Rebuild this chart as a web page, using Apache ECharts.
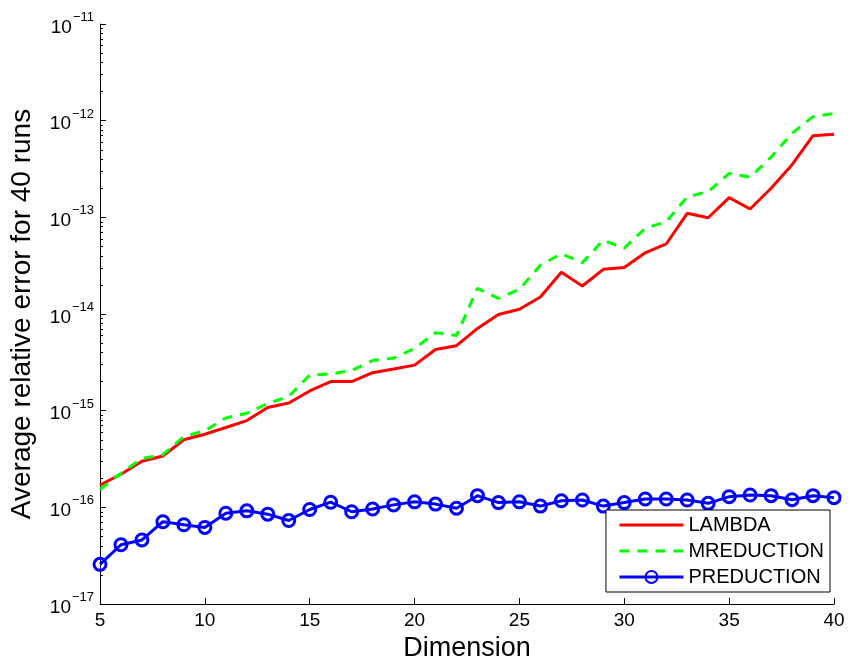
<!DOCTYPE html>
<html><head><meta charset="utf-8">
<script src="https://cdn.jsdelivr.net/npm/echarts@6/dist/echarts.min.js"></script>
<style>html,body{margin:0;padding:0;background:#fff}#c{width:849px;height:669px}</style>
</head><body><div id="c"></div>
<script>
const dims = [5,6,7,8,9,10,11,12,13,14,15,16,17,18,19,20,21,22,23,24,25,26,27,28,29,30,31,32,33,34,35,36,37,38,39,40];
const lambda = [1.7e-16,2.2e-16,3.0e-16,3.4e-16,5.0e-16,5.7e-16,6.7e-16,7.9e-16,1.08e-15,1.2e-15,1.6e-15,2.0e-15,2.0e-15,2.47e-15,2.7e-15,2.96e-15,4.3e-15,4.7e-15,7.1e-15,9.9e-15,1.12e-14,1.5e-14,2.7e-14,1.95e-14,2.9e-14,3.03e-14,4.3e-14,5.3e-14,1.1e-13,9.9e-14,1.6e-13,1.22e-13,2.0e-13,3.5e-13,7.0e-13,7.25e-13];
const mreduction = [1.53e-16,2.25e-16,3.2e-16,3.5e-16,5.4e-16,6.2e-16,8.4e-16,9.4e-16,1.19e-15,1.4e-15,2.33e-15,2.4e-15,2.6e-15,3.3e-15,3.5e-15,4.4e-15,6.4e-15,6.0e-15,1.84e-14,1.45e-14,1.8e-14,3.2e-14,4.2e-14,3.4e-14,5.8e-14,4.8e-14,7.7e-14,9.0e-14,1.63e-13,1.84e-13,2.85e-13,2.6e-13,4.2e-13,7.4e-13,1.1e-12,1.19e-12];
const preduction = [2.57e-17,4.1e-17,4.6e-17,7.1e-17,6.6e-17,6.2e-17,8.7e-17,9.2e-17,8.5e-17,7.3e-17,9.5e-17,1.13e-16,9.0e-17,9.6e-17,1.06e-16,1.14e-16,1.08e-16,9.8e-17,1.32e-16,1.12e-16,1.14e-16,1.03e-16,1.17e-16,1.19e-16,1.03e-16,1.12e-16,1.22e-16,1.22e-16,1.19e-16,1.1e-16,1.29e-16,1.34e-16,1.32e-16,1.2e-16,1.32e-16,1.26e-16];
const xTicks = [5,10,15,20,25,30,35,40];
const yExps = [-17,-16,-15,-14,-13,-12,-11];

const FONT = '"Liberation Sans", Arial, Helvetica, sans-serif';
const pair = a => dims.map((d,i)=>[d,a[i]]);
const hidden = {color:'rgba(0,0,0,0)',borderWidth:0,opacity:0};
const chart = echarts.init(document.getElementById('c'), null, {renderer:'canvas'});
chart.setOption({
  animation:false,
  backgroundColor:'#fff',
  textStyle:{fontFamily:FONT,color:'#000'},
  grid:{left:98,right:15,top:24,bottom:65,containLabel:false},
  xAxis:{
    type:'value',min:5,max:40,interval:5,
    name:'Dimension',nameLocation:'middle',nameGap:30,
    nameTextStyle:{fontSize:27,color:'#000',fontFamily:FONT},
    axisLine:{show:true,onZero:false,lineStyle:{color:'#000',width:1}},
    axisTick:{show:true,inside:true,length:6,lineStyle:{color:'#000'}},
    axisLabel:{fontSize:19,color:'#000',margin:7,fontFamily:FONT,
      formatter:v=>xTicks.includes(v)?String(v):''},
    splitLine:{show:false}
  },
  yAxis:{
    type:'log',logBase:10,min:1e-17,max:1e-11,
    name:'Average relative error for 40 runs',nameLocation:'middle',nameGap:64,
    nameTextStyle:{fontSize:28,color:'#000',fontFamily:FONT},
    axisLine:{show:true,lineStyle:{color:'#000',width:1}},
    axisTick:{show:true,inside:true,length:6,lineStyle:{color:'#000'}},
    minorTick:{show:true,splitNumber:9,length:3,lineStyle:{color:'#000'}},
    splitLine:{show:false},minorSplitLine:{show:false},
    axisLabel:{margin:6,color:'#000',fontFamily:FONT,
      formatter:function(v){
        const e=Math.round(Math.log10(v));
        if(!yExps.includes(e)) return '';
        return '{b|10}{s|\u2212'+Math.abs(e)+'}';
      },
      rich:{
        b:{fontSize:19,color:'#000',fontFamily:FONT,verticalAlign:'bottom',lineHeight:26},
        s:{fontSize:13,color:'#000',fontFamily:FONT,verticalAlign:'top',lineHeight:26,padding:[0,0,0,1]}
      }
    }
  },
  legend:{
    orient:'vertical',right:19,bottom:77,
    backgroundColor:'#fff',borderColor:'#000',borderWidth:1,borderRadius:0,
    padding:[5,6,5,12],itemGap:6,itemWidth:64,itemHeight:15,
    lineStyle:{width:3},
    textStyle:{fontSize:20,lineHeight:19,color:'#000',fontFamily:FONT},
    data:[
      {name:'LAMBDA',itemStyle:hidden},
      {name:'MREDUCTION',itemStyle:hidden},
      {name:'PREDUCTION'}
    ]
  },
  series:[
    {name:'LAMBDA',type:'line',data:pair(lambda),showSymbol:false,symbol:'circle',
      lineStyle:{color:'#ff0000',width:3},itemStyle:{color:'#ff0000'}},
    {name:'MREDUCTION',type:'line',data:pair(mreduction),showSymbol:false,symbol:'circle',
      lineStyle:{color:'#00ff00',width:3,type:[10,8]},itemStyle:{color:'#00ff00'}},
    {name:'PREDUCTION',type:'line',data:pair(preduction),symbol:'circle',symbolSize:12,
      lineStyle:{color:'#0000ff',width:3},
      itemStyle:{color:'rgba(0,0,255,0)',borderColor:'#0000ff',borderWidth:3}}
  ]
});
</script></body></html>
